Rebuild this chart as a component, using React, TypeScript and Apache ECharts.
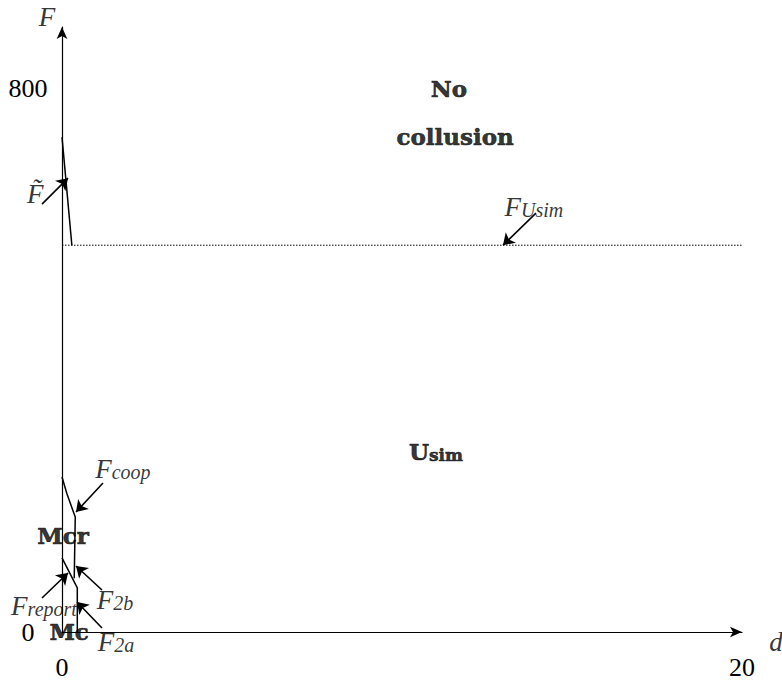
import React, { useEffect, useRef } from "react";
import * as echarts from "echarts";

// Axis ranges / ticks
const xTicks = [0, 20];
const yTicks = [0, 800];
const yTop = 890;

// Curves (d, F)
const fTildeCurve = [[0, 728], [0.29, 569]];
const fUsimCurve = [[0, 569], [20, 569]];
const fCoopCurve = [[0, 228], [0.14, 204], [0.39, 169], [0.36, 79]];
const fReportCurve = [[0, 109], [0.45, 65], [0.45, 0]];

// Annotation arrows: [fromX, fromY, toX, toY]
const arrows = [
  [-0.588, 629.4, 0.176, 667.6],
  [13.94, 616.2, 12.97, 569.1],
  [1.206, 219.1, 0.412, 176.5],
  [-0.588, 50, 0.176, 86.8],
  [1.176, 61.8, 0.412, 97.1],
  [1.176, 5.9, 0.441, 44.1],
];

// Annotation labels
const labelTexts = [
  "{i|F}",
  "{i|d}",
  "{i|F\u0303}",
  "{i|F}{s|Usim}",
  "{b|No}",
  "{b|collusion}",
  "{b|U}{bs|sim}",
  "{i|F}{s|coop}",
  "{b|Mcr}",
  "{i|F}{s|report}",
  "{i|F}{s|2b}",
  "{b|Mc}",
  "{i|F}{s|2a}",
];
const labelX = [-0.44, 21.0, -0.79, 13.88, 11.38, 11.56, 11.0, 1.79, 0.03, -0.53, 1.56, 0.21, 1.59];
const labelY = [907, -11.8, 647, 628, 804, 734, 270.6, 242.6, 147, 41, 50, 5.9, -11.8];

const SERIF = "Liberation Serif";

export default function App() {
  const ref = useRef<HTMLDivElement>(null);
  useEffect(() => {
    document.body.style.margin = "0";
    const chart = echarts.init(ref.current!, null, { renderer: "svg" });
    const lineStyle = { color: "#000", width: 1.5 };
    const base = { color: "#000", textBorderWidth: 0, lineHeight: 30, verticalAlign: "bottom" };
    const boldBase = { ...base, textBorderColor: "#000", textBorderWidth: 0.6 };
    const rich = {
      i: { ...base, fontFamily: SERIF, fontStyle: "italic", fontSize: 27 },
      s: { ...base, fontFamily: SERIF, fontStyle: "italic", fontSize: 20, padding: [10, 0, 0, 0] },
      b: { ...boldBase, fontFamily: "DejaVu Serif", fontWeight: "bold", fontSize: 23 },
      bs: { ...boldBase, fontFamily: "DejaVu Serif", fontWeight: "bold", fontSize: 17, padding: [8, 0, 0, 0] },
    };
    const option: any = {
      animation: false,
      backgroundColor: "#fff",
      grid: { left: 62, right: 40, top: 27, bottom: 49, containLabel: false },
      xAxis: {
        type: "value",
        min: xTicks[0],
        max: xTicks[1],
        interval: xTicks[1] - xTicks[0],
        axisLine: { show: true, lineStyle: { color: "#000", width: 1.2 }, symbol: ["none", "arrow"], symbolSize: [8, 12] },
        axisTick: { show: false },
        splitLine: { show: false },
        axisLabel: { fontFamily: SERIF, fontSize: 26, color: "#000", margin: 22 },
      },
      yAxis: {
        type: "value",
        min: yTicks[0],
        max: yTop,
        interval: yTicks[1] - yTicks[0],
        axisLine: { show: true, onZero: false, lineStyle: { color: "#000", width: 1.2 }, symbol: ["none", "arrow"], symbolSize: [8, 12] },
        axisTick: { show: false },
        splitLine: { show: false },
        axisLabel: { fontFamily: SERIF, fontSize: 26, color: "#000", margin: 34, align: "center", showMaxLabel: false },
      },
      series: [
        { type: "line", data: fTildeCurve, showSymbol: false, lineStyle, z: 3 },
        { type: "line", data: fUsimCurve, showSymbol: false, lineStyle: { color: "#000", width: 1, type: [1.5, 1.5] }, z: 3 },
        { type: "line", data: fCoopCurve, showSymbol: false, lineStyle, z: 3 },
        { type: "line", data: fReportCurve, showSymbol: false, lineStyle, z: 3 },
        {
          type: "lines",
          coordinateSystem: "cartesian2d",
          clip: false,
          symbol: ["none", "arrow"],
          symbolSize: 11,
          lineStyle: { color: "#000", width: 1.6, opacity: 1 },
          data: arrows.map((a) => ({ coords: [[a[0], a[1]], [a[2], a[3]]] })),
          z: 4,
        },
        {
          type: "scatter",
          symbolSize: 0,
          clip: false,
          silent: true,
          data: labelTexts.map((t, k) => ({ value: [labelX[k], labelY[k]], text: t })),
          label: {
            show: true,
            position: "inside",
            color: "#000",
            textBorderWidth: 0,
            formatter: (p: any) => p.data.text,
            rich,
          },
          z: 5,
        },
      ],
    };
    chart.setOption(option);
    return () => chart.dispose();
  }, []);
  return <div ref={ref} style={{ width: 782, height: 681 }} />;
}
